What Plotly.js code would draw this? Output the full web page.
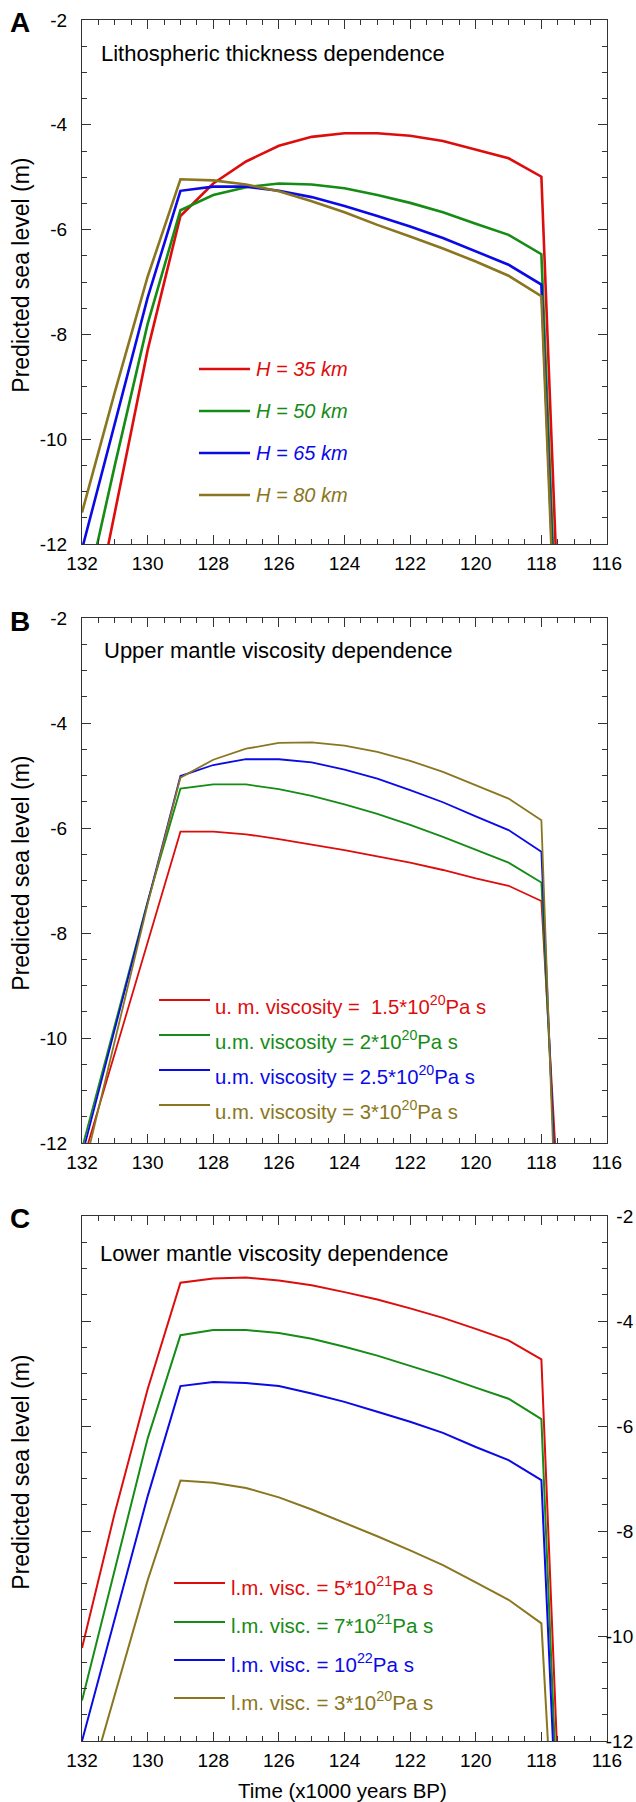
<!DOCTYPE html>
<html>
<head>
<meta charset="utf-8">
<script src="https://cdn.plot.ly/plotly-3.0.1.min.js"></script>
<style>
  html, body { margin: 0; padding: 0; background: #fff; }
  #chart { width: 636px; height: 1802px; }
</style>
</head>
<body>
<div id="chart"></div>
<script>
// ---------------- DATA ----------------
const timeKyr = [132, 131, 130, 129, 128, 127, 126, 125, 124, 123, 122, 121, 120, 119, 118, 117.5];

// Panel A: lithospheric thickness dependence
const namesA = ["H = 35 km", "H = 50 km", "H = 65 km", "H = 80 km"];
const seaA_H35 = [-14.5, -11.4, -8.3, -5.74, -5.12, -4.70, -4.40, -4.23, -4.16, -4.16, -4.21, -4.31, -4.47, -4.64, -4.99, -13.1];
const seaA_H50 = [-13.3, -10.5, -7.8, -5.63, -5.34, -5.19, -5.12, -5.14, -5.21, -5.34, -5.49, -5.67, -5.89, -6.10, -6.47, -14.4];
const seaA_H65 = [-12.1, -9.7, -7.3, -5.26, -5.18, -5.18, -5.26, -5.38, -5.55, -5.74, -5.94, -6.16, -6.42, -6.67, -7.05, -14.8];
const seaA_H80 = [-11.4, -9.1, -6.9, -5.04, -5.06, -5.14, -5.27, -5.46, -5.67, -5.91, -6.13, -6.36, -6.61, -6.88, -7.27, -15.1];

// Panel B: upper mantle viscosity dependence
const namesB = ["u. m. viscosity =  1.5*10<sup>20</sup>Pa s", "u.m. viscosity = 2*10<sup>20</sup>Pa s",
                "u.m. viscosity = 2.5*10<sup>20</sup>Pa s", "u.m. viscosity = 3*10<sup>20</sup>Pa s"];
const seaB_um15 = [-12.4, -10.3, -8.19, -6.07, -6.07, -6.12, -6.21, -6.31, -6.42, -6.54, -6.66, -6.80, -6.96, -7.10, -7.39, -12.9];
const seaB_um20 = [-12.1, -9.75, -7.4, -5.25, -5.17, -5.17, -5.26, -5.39, -5.55, -5.73, -5.94, -6.17, -6.42, -6.66, -7.04, -13.5];
const seaB_um25 = [-12.24, -9.82, -7.4, -5.01, -4.80, -4.69, -4.69, -4.75, -4.89, -5.06, -5.28, -5.51, -5.78, -6.04, -6.45, -13.85];
const seaB_um30 = [-12.66, -10.03, -7.45, -5.04, -4.70, -4.49, -4.38, -4.37, -4.43, -4.55, -4.72, -4.93, -5.19, -5.44, -5.85, -14.6];

// Panel C: lower mantle viscosity dependence
const namesC = ["l.m. visc. = 5*10<sup>21</sup>Pa s", "l.m. visc. = 7*10<sup>21</sup>Pa s",
                "l.m. visc. = 10<sup>22</sup>Pa s", "l.m. visc. = 3*10<sup>20</sup>Pa s"];
const seaC_lm5e21 = [-10.23, -7.65, -5.30, -3.27, -3.19, -3.17, -3.23, -3.32, -3.45, -3.59, -3.76, -3.94, -4.15, -4.37, -4.73, -12.5];
const seaC_lm7e21 = [-11.23, -8.74, -6.24, -4.27, -4.17, -4.17, -4.23, -4.34, -4.49, -4.66, -4.85, -5.05, -5.27, -5.48, -5.87, -13.5];
const seaC_lm1e22 = [-12.0, -9.68, -7.34, -5.24, -5.16, -5.18, -5.24, -5.38, -5.54, -5.73, -5.92, -6.13, -6.40, -6.65, -7.03, -14.1];
const seaC_lm3e20 = [-13.3, -11.1, -8.94, -7.04, -7.08, -7.18, -7.36, -7.59, -7.84, -8.10, -8.37, -8.65, -8.98, -9.31, -9.76, -15.4];

const panelTitles = ["Lithospheric thickness dependence", "Upper mantle viscosity dependence", "Lower mantle viscosity dependence"];
const panelLetters = ["A", "B", "C"];
const yTitle = "Predicted sea level (m)";
const xTitle = "Time (x1000 years BP)";
const xTicks = [132, 130, 128, 126, 124, 122, 120, 118, 116];
const yTicks = [-12, -10, -8, -6, -4, -2];

// ---------------- STYLE ----------------
const W = 636, H = 1802;
const FONT = "Liberation Sans, Arial, Helvetica, sans-serif";
const colors = ["#de0d0d", "#158c15", "#0a0ae6", "#8a7620"];
const px = v => v / W;
const py = v => 1 - v / H;

// panel boxes in pixels [top, bottom]
const boxes = [[20, 544], [618, 1143], [1216, 1741]];
const xDom = [px(82), px(607)];
const widths = [2.6, 1.8, 2.0];

const seriesByPanel = [
  [seaA_H35, seaA_H50, seaA_H65, seaA_H80],
  [seaB_um15, seaB_um20, seaB_um25, seaB_um30],
  [seaC_lm5e21, seaC_lm7e21, seaC_lm1e22, seaC_lm3e20]
];
const namesByPanel = [namesA, namesB, namesC];

const traces = [];
seriesByPanel.forEach((sers, p) => {
  sers.forEach((ys, i) => {
    traces.push({
      type: "scatter", mode: "lines",
      x: timeKyr, y: ys,
      name: namesByPanel[p][i],
      xaxis: p === 0 ? "x" : "x" + (p + 1),
      yaxis: p === 0 ? "y" : "y" + (p + 1),
      line: { color: colors[i], width: widths[p] },
      showlegend: false,
      hoverinfo: "x+y+name"
    });
  });
});

function xAxis(p) {
  return {
    domain: xDom,
    anchor: p === 0 ? "y" : "y" + (p + 1),
    range: [132, 116],
    tickvals: xTicks,
    ticktext: xTicks.map(String),
    ticks: "inside", ticklen: 9, tickwidth: 1, tickcolor: "#333",
    minor: { dtick: 0.5, tick0: 0, ticks: "inside", ticklen: 5, tickwidth: 1, tickcolor: "#333", showgrid: false },
    showline: true, linecolor: "#333", linewidth: 1, mirror: "allticks",
    showgrid: false, zeroline: false,
    tickfont: { family: FONT, size: 19, color: "#000" },
    ticklabelstandoff: 2,
    fixedrange: true
  };
}
function yAxis(p) {
  const b = boxes[p];
  const right = p === 2;
  return {
    domain: [py(b[1]), py(b[0])],
    anchor: p === 0 ? "x" : "x" + (p + 1),
    range: [-12, -2],
    tickvals: yTicks,
    // right-side labels are right-aligned in the reference: pad the short ones
    ticktext: yTicks.map(v => (right && v > -10) ? "\u00a0\u00a0" + v : String(v)),
    side: right ? "right" : "left",
    ticks: "inside", ticklen: 9, tickwidth: 1, tickcolor: "#333",
    minor: { dtick: 0.5, tick0: 0, ticks: "inside", ticklen: 5, tickwidth: 1, tickcolor: "#333", showgrid: false },
    showline: true, linecolor: "#333", linewidth: 1, mirror: "allticks",
    showgrid: false, zeroline: false,
    tickfont: { family: FONT, size: 19, color: "#000" },
    ticklabelstandoff: right ? -6 : 10,
    fixedrange: true
  };
}

const annotations = [];
const shapes = [];
const letterY = [22, 621, 1218];
const titleX = [99, 102, 98];
const titleY = [53, 651, 1253];
const yTitleY = [275, 873, 1472];

boxes.forEach((b, p) => {
  annotations.push({ xref: "paper", yref: "paper", x: px(20), y: py(letterY[p]), xanchor: "center", yanchor: "middle",
    text: "<b>" + panelLetters[p] + "</b>", showarrow: false, font: { family: FONT, size: 28, color: "#000" } });
  annotations.push({ xref: "paper", yref: "paper", x: px(titleX[p]), y: py(titleY[p]), xanchor: "left", yanchor: "middle",
    text: panelTitles[p], showarrow: false, font: { family: FONT, size: 22, color: "#000" } });
  annotations.push({ xref: "paper", yref: "paper", x: px(20.7), y: py(yTitleY[p]), xanchor: "center", yanchor: "middle",
    text: yTitle, textangle: -90, showarrow: false, font: { family: FONT, size: 23, color: "#000" } });
});
annotations.push({ xref: "paper", yref: "paper", x: px(342), y: py(1790), xanchor: "center", yanchor: "middle",
  text: xTitle, showarrow: false, font: { family: FONT, size: 20.5, color: "#000" } });

// legend keys (drawn in pixel positions)
const legendSpec = [
  { x0: 199, x1: 250, tx: 254, lineY: [369, 411, 453, 495], textY: [369, 411, 453, 495], italic: true, size: 20 },
  { x0: 159, x1: 210, tx: 213, lineY: [1000, 1035, 1070, 1105], textY: [1005, 1040, 1075, 1110], italic: false, size: 20.3 },
  { x0: 174, x1: 225, tx: 229, lineY: [1583, 1622, 1660, 1698], textY: [1585.5, 1623.5, 1662.5, 1700.5], italic: false, size: 20.5 }
];
legendSpec.forEach((L, p) => {
  namesByPanel[p].forEach((nm, i) => {
    shapes.push({ type: "line", xref: "paper", yref: "paper", x0: px(L.x0), x1: px(L.x1), y0: py(L.lineY[i]), y1: py(L.lineY[i]),
      line: { color: colors[i], width: widths[p] } });
    annotations.push({ xref: "paper", yref: "paper", x: px(L.tx), y: py(L.textY[i]), xanchor: "left", yanchor: "middle",
      text: L.italic ? "<i>" + nm + "</i>" : nm, showarrow: false,
      font: { family: FONT, size: L.size, color: colors[i] } });
  });
});

const layout = {
  width: W, height: H,
  margin: { l: 0, r: 0, t: 0, b: 0, pad: 0 },
  paper_bgcolor: "#fff", plot_bgcolor: "#fff",
  showlegend: false,
  font: { family: FONT, color: "#000" },
  xaxis: xAxis(0), xaxis2: xAxis(1), xaxis3: xAxis(2),
  yaxis: yAxis(0), yaxis2: yAxis(1), yaxis3: yAxis(2),
  annotations: annotations,
  shapes: shapes
};

Plotly.newPlot("chart", traces, layout, { displayModeBar: false, staticPlot: true });
</script>
</body>
</html>
